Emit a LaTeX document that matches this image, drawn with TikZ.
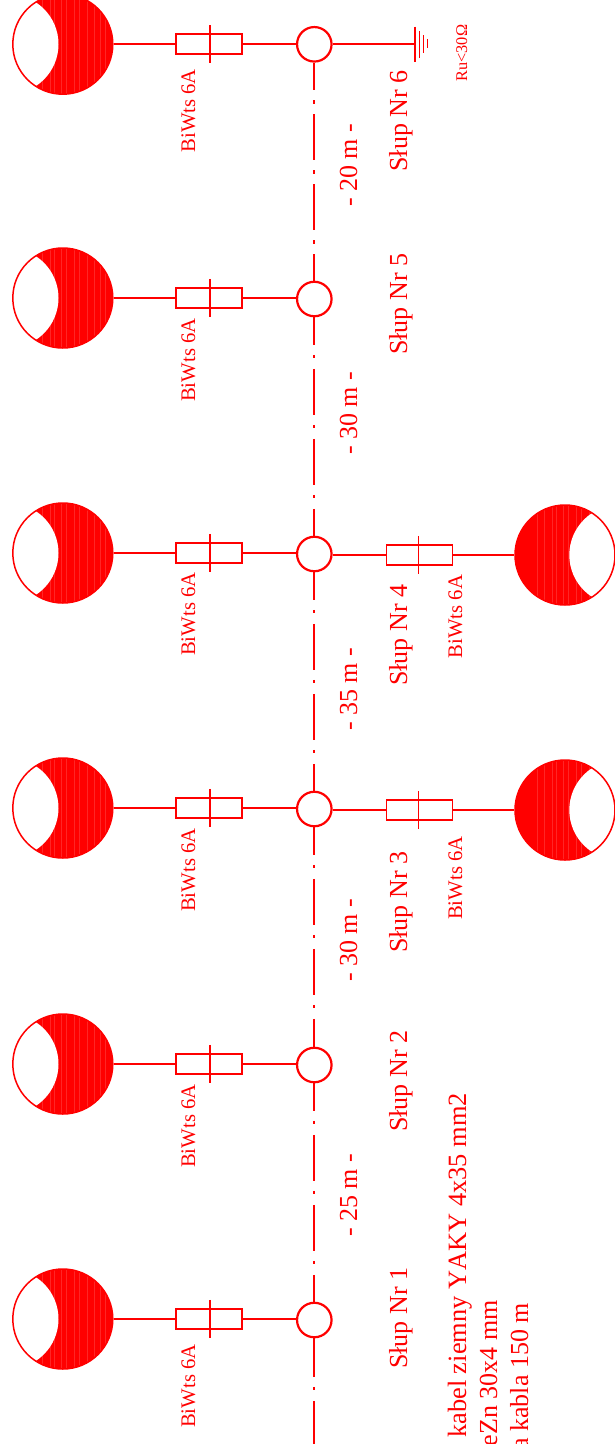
\documentclass[tikz,border=0pt]{standalone}
\usepackage{fontspec}
\setmainfont{Liberation Serif}[Kerning=Off]
\usepackage{xcolor}
\usepackage{tikz}
\usetikzlibrary{calc,positioning}
\definecolor{linered}{RGB}{255,0,0}
\newcommand{\lampstreaks}{%
	\foreach \sx in {-28,-21,-13,-9,-2,3,11,16,24,31,37,42}{
		\draw[linered!85!white,line width=0.4pt] ($(path picture bounding box.center)+(\sx pt,-50pt)$) -- ++(0,100pt);
	}}
\tikzset{
	wire/.style={draw=linered,line width=1.7pt},
	cable/.style={draw=linered,line width=2.3pt,dash pattern=on 46pt off 10pt on 3.5pt off 10.5pt},
	junction/.style={circle,draw=linered,line width=2.2pt,minimum size=34.5pt,inner sep=0pt},
	fusebox/.style={rectangle,draw=linered,line width=1.7pt,minimum width=66pt,minimum height=20pt,inner sep=0pt},
	lampleft/.style={circle,draw=linered,fill=linered,line width=1.5pt,minimum size=100pt,inner sep=0pt,
		path picture={\lampstreaks\fill[white] ($(path picture bounding box.center)+(-54.3pt,0)$) circle (50pt);}},
	lampright/.style={circle,draw=linered,fill=linered,line width=1.5pt,minimum size=100pt,inner sep=0pt,
		path picture={\lampstreaks\fill[white] ($(path picture bounding box.center)+(54.3pt,0)$) circle (50pt);}},
	txt/.style={text=linered,rotate=90,inner sep=0pt,anchor=base west,font=\fontsize{26pt}{26pt}\selectfont},
	smalltxt/.style={txt,font=\fontsize{20.7pt}{20.7pt}\selectfont},
	tinytxt/.style={txt,font=\fontsize{16.3pt}{16.3pt}\selectfont},
}
\begin{document}
\begin{tikzpicture}[x=1pt,y=-1pt]
	\useasboundingbox (0,0) rectangle (615,1444);
	% pole rows
	\foreach \name/\yj/\yl in {a/44.3/44.2,b/299/298,c/554/553,d/809/808,e/1065/1064,f/1320/1319}{
		\node[junction] (j\name) at (314.3,\yj) {};
		\node[fusebox] (fuse\name) at (208.7,\yl) {};
		\node[lampleft] (lamp\name) at (62.8,\yl) {};
		\draw[wire] (lamp\name) -- (fuse\name) -- (j\name.west |- fuse\name);
		\draw[wire] ($(fuse\name.center)+(1,-19.2)$) -- ++(0,38.4);
	}
	% cable
	\coordinate (cableend) at (314.3,1444);
	\foreach \from/\to in {a/b,b/c,c/d,d/e,e/f}{
		\draw[cable,dash phase=18.4pt] (j\from.south) -- (j\to.north);
	}
	\draw[cable,dash phase=7.4pt] (jf.south) -- (cableend);
	% right hand lamps
	\foreach \name/\yl in {c/555,d/810}{
		\node[fusebox] (fuser\name) at (419.5,\yl) {};
		\node[lampright] (lampr\name) at (565,\yl) {};
		\draw[wire] (j\name.east |- fuser\name) -- (fuser\name) -- (lampr\name);
		\draw[wire] ($(fuser\name.center)+(-1,-19.2)$) -- ++(0,38.4);
	}
	% earth
	\coordinate (earth) at (415,44.3);
	\draw[wire] (ja) -- (earth);
	\draw[wire] (415,26.7) -- (415,61.7);
	\draw[wire,line width=1.5pt] (419.3,31) -- (419.3,58);
	\draw[wire,line width=1.5pt] (423.5,35) -- (423.5,53);
	\draw[wire,line width=1.5pt] (427.7,39) -- (427.7,48);
	% labels
	\foreach \yy/\lab in {152.7/a,402/b,656/c,912/d,1168/e,1428/f}{
		\node[smalltxt] (bw\lab) at (195,\yy) {BiWts 6A};
	}
	\node[smalltxt] (bwrc) at (462,658.3) {BiWts 6A};
	\node[smalltxt] (bwrd) at (462,920) {BiWts 6A};
	\foreach \yy/\nr in {171.7/6,355/5,686/4,953/3,1132/2,1369/1}{
		\node[txt] (slup\nr) at (407,\yy) {Słup Nr \nr};
	}
	\foreach \yy/\len/\lab in {207/20/a,455/30/b,731/35/c,982/30/d,1237/25/e}{
		\node[txt] (dist\lab) at (357,\yy) {- \len\ m -};
	}
	\node[tinytxt] (ziemia) at (467,81.7) {Ru<30Ω};
	\node[txt,anchor=base east,font=\fontsize{26.4pt}{26.4pt}\selectfont] (kabel) at (466,1093) {kabel ziemny YAKY 4x35 mm2};
	\node[txt,anchor=base east] (bednarka) at (497,1300) {eZn 30x4 mm};
	\node[txt,anchor=base east] (dlugosc) at (528,1303) {a kabla 150 m};
\end{tikzpicture}
\end{document}
